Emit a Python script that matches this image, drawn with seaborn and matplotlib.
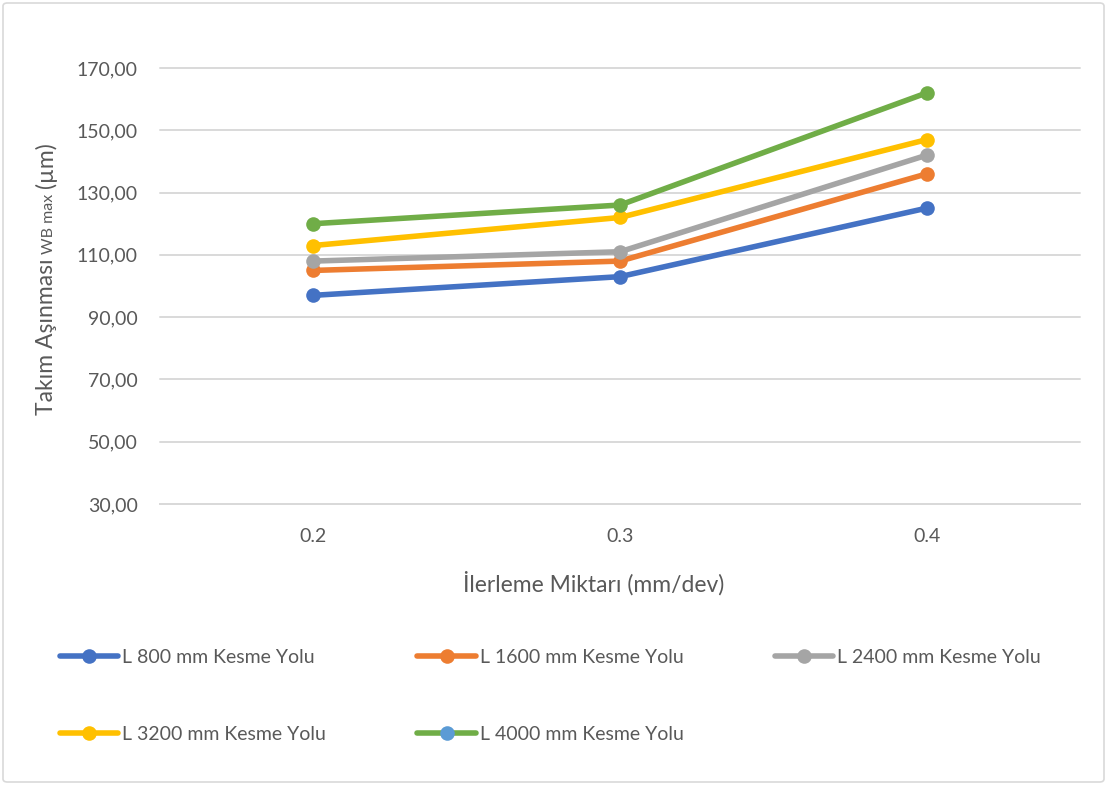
import numpy as np
import pandas as pd
import matplotlib
matplotlib.use("Agg")
import matplotlib.pyplot as plt
import seaborn as sns
from matplotlib.ticker import FuncFormatter
from matplotlib.lines import Line2D
from matplotlib.patches import FancyBboxPatch

# Feed rates (mm/dev) and tool wear (µm) per cutting-path length
feed_rates = ["0.2", "0.3", "0.4"]
series_names = [
    "L 800 mm Kesme Yolu",
    "L 1600 mm Kesme Yolu",
    "L 2400 mm Kesme Yolu",
    "L 3200 mm Kesme Yolu",
    "L 4000 mm Kesme Yolu",
]
wear_800 = [97, 103, 125]
wear_1600 = [105, 108, 136]
wear_2400 = [108, 111, 142]
wear_3200 = [113, 122, 147]
wear_4000 = [120, 126, 162]
y_ticks = [30, 50, 70, 90, 110, 130, 150, 170]

colors = ["#4472C4", "#ED7D31", "#A5A5A5", "#FFC000", "#70AD47"]
text_color = "#595959"
grid_color = "#D9D9D9"

sns.set_theme(style="white")
plt.rcParams["font.family"] = ["Lato", "DejaVu Sans"]

W, H = 1107, 785
fig = plt.figure(figsize=(W / 100, H / 100), dpi=100)
ax = fig.add_axes([160 / W, 1 - 504 / H, 920 / W, 436 / H])

rows = []
for name, vals in zip(series_names, [wear_800, wear_1600, wear_2400, wear_3200, wear_4000]):
    for f, v in zip(feed_rates, vals):
        rows.append({"feed": f, "wear": v, "series": name})
df = pd.DataFrame(rows)

LW, MS = 4, 10.5
sns.pointplot(
    data=df, x="feed", y="wear", hue="series",
    order=feed_rates, hue_order=series_names, palette=colors,
    markers="o", linestyles="-", errorbar=None, dodge=False,
    linewidth=LW, markersize=MS, markeredgewidth=0, ax=ax,
)
if ax.get_legend() is not None:
    ax.get_legend().remove()

ax.set_xlim(-0.5, 2.5)
ax.set_ylim(30, 170)
ax.set_yticks(y_ticks)
ax.yaxis.set_major_formatter(FuncFormatter(lambda v, _: f"{v:.2f}".replace(".", ",")))
ax.yaxis.grid(True, color=grid_color, lw=1.4)
ax.xaxis.grid(False)
ax.set_axisbelow(True)
for gl in ax.get_ygridlines():
    gl.set_clip_on(False)
for side in ["top", "right", "left"]:
    ax.spines[side].set_visible(False)
ax.spines["bottom"].set_color(grid_color)
ax.spines["bottom"].set_linewidth(1.4)
ax.tick_params(axis="both", length=0, colors=text_color, labelsize=14)
ax.tick_params(axis="y", pad=16)
ax.tick_params(axis="x", pad=17)

ax.set_xlabel("İlerleme Miktarı (mm/dev)", fontsize=16.5, color=text_color)
ax.xaxis.set_label_coords((594 - 160) / 920, (504 - 583) / 436)
ax.xaxis.label.set_va("center")
ax.set_ylabel("")

# Legend, filled row by row (matplotlib fills columns first)
handles = [Line2D([], [], color=c, lw=LW, marker="o", markersize=MS, markeredgewidth=0)
           for c in colors]
order = [0, 3, 1, 4, 2]
leg = fig.legend(
    [handles[i] for i in order], [series_names[i] for i in order],
    loc="upper left", bbox_to_anchor=(60 / W, 1 - 649 / H), ncol=3,
    frameon=False, fontsize=14, handlelength=3.0, handletextpad=0.2,
    columnspacing=4.7, labelspacing=3.1, borderpad=0, borderaxespad=0,
)
for t in leg.get_texts():
    t.set_color(text_color)
leg.legend_handles[3].set_markerfacecolor("#5B9BD5")

# Y axis title with the smaller "WB max" part, centred along the plot
fig.canvas.draw()
renderer = fig.canvas.get_renderer()
x_base = 53 / W
pieces = [("Takım Aşınması", 16.5), ("WB max", 11.5), ("(µm)", 16.5)]
gap = 5.0
texts, lengths = [], []
for txt, fs in pieces:
    t = fig.text(x_base, 0.5, txt, rotation=90, rotation_mode="anchor",
                 ha="left", va="baseline", fontsize=fs, color=text_color)
    lengths.append(t.get_window_extent(renderer=renderer).height)
    texts.append(t)
total = sum(lengths) + gap * (len(pieces) - 1)
y_px = (H - 279) - total / 2
for t, L in zip(texts, lengths):
    t.set_y(y_px / H)
    y_px += L + gap

# Chart frame
frame = FancyBboxPatch((3 / W, 3 / H), 1 - 6 / W, 1 - 6 / H,
                       boxstyle="round,pad=0,rounding_size=0.004",
                       transform=fig.transFigure, fill=False,
                       ec=grid_color, lw=1.2)
fig.add_artist(frame)

fig.savefig("out.png", dpi=100)
